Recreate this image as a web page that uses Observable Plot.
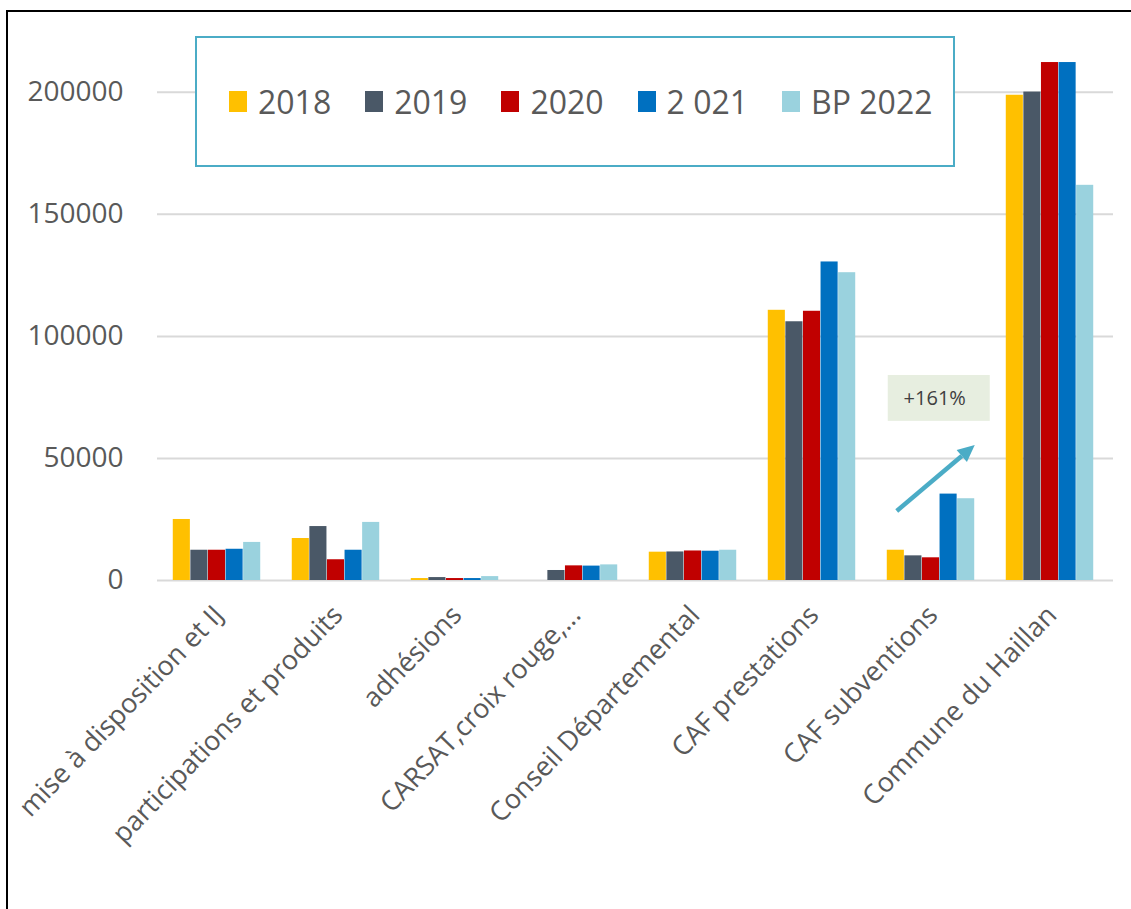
<!DOCTYPE html>
<html><head><meta charset="utf-8">
<script src="https://cdn.jsdelivr.net/npm/d3@7"></script>
<script src="https://cdn.jsdelivr.net/npm/@observablehq/plot@0.6"></script>
<style>
body{margin:0;background:#fff;font-family:"Open Sans",sans-serif;}
#wrap{position:relative;width:1131px;height:909px;overflow:hidden;background:#fff;}
#frame{position:absolute;left:6px;top:10px;width:1300px;height:1100px;border:2px solid #000;}
#chart{position:absolute;left:0;top:0;}
#legend{position:absolute;left:195px;top:36px;width:760px;height:131px;box-sizing:border-box;border:2px solid #4bacc6;background:#fff;display:flex;align-items:center;padding-left:32px;white-space:nowrap;}
.item{display:flex;align-items:center;margin-right:34px;flex:none;}
.sw{width:18px;height:21px;margin-right:11px;}
.lab{font-size:32px;color:#595959;line-height:1;}
</style></head>
<body><div id="wrap"><div id="frame"></div><div id="chart"></div><div id="legend"></div></div>
<script>
const categories = ["mise à disposition et IJ","participations et produits","adhésions","CARSAT,croix rouge,...","Conseil Départemental","CAF prestations","CAF subventions","Commune du Haillan"];
const years = ["2018","2019","2020","2 021","BP 2022"];
const colors = ["#FFC000","#4A5867","#C00000","#0070C0","#9AD2DE"];
const v2018 = [25000, 17200, 800, null, 11600, 110700, 12400, 198800];
const v2019 = [12400, 22100, 1200, 4100, 11700, 106000, 10100, 200100];
const v2020 = [12400, 8500, 800, 6000, 12100, 110300, 9300, 212200];
const v2021 = [12800, 12400, 800, 5900, 12000, 130500, 35400, 212200];
const vBP22 = [15600, 23800, 1600, 6400, 12400, 126100, 33500, 161900];
const yTicks = [0, 50000, 100000, 150000, 200000];
const annotationText = "+161%";
const annotationCategory = "CAF subventions";

const series = [v2018, v2019, v2020, v2021, vBP22];
const W = 1131, H = 909, mL = 157, mR = 18, mT = 43, mB = 329;
const band = (W - mL - mR) / categories.length;
const groupW = band * 0.736;
const barW = groupW / years.length;
const off = (band - groupW) / 2 - 2;

const barMarks = series.map((vals, i) => {
  const rows = categories.map((c, j) => ({category: c, value: vals[j], year: years[i]})).filter(d => d.value != null);
  return Plot.barY(rows, {x: "category", y: "value", fill: colors[i],
    insetLeft: off + i * barW, insetRight: band - off - (i + 1) * barW});
});

const plot = Plot.plot({
  width: W, height: H,
  marginLeft: mL, marginRight: mR, marginTop: mT, marginBottom: mB,
  style: {fontFamily: "Open Sans", fontSize: "27px", color: "#595959", background: "transparent", overflow: "visible"},
  x: {domain: categories, padding: 0, tickSize: 0, tickRotate: -46, tickPadding: 30, label: null},
  y: {domain: [0, 220000], ticks: yTicks, tickSize: 0, tickPadding: 34, tickFormat: d => String(d), label: null},
  marks: [
    Plot.ruleY(yTicks, {stroke: "#d9d9d9", strokeWidth: 2}),
    ...barMarks
  ]
});
document.getElementById("chart").appendChild(plot);

const svg = d3.select(plot);
svg.selectAll('g[aria-label^="y-axis"] text').style("font-size", "28px").attr("fill", "#595959");
svg.selectAll('g[aria-label^="x-axis"] text').attr("fill", "#595959").style("font-size", "27px");
svg.selectAll('g[aria-label^="x-axis"] path, g[aria-label^="y-axis"] path').remove();

// annotation through the plot's own scales
const xs = plot.scale("x"), ys = plot.scale("y");
const xb = d3.scaleBand().domain(xs.domain).range(xs.range).padding(0);
const yl = d3.scaleLinear().domain(ys.domain).range(ys.range);
const cx = xb(annotationCategory) + xb.bandwidth() / 2;
const g = svg.append("g");
g.append("rect").attr("x", cx - 46).attr("y", yl(84000)).attr("width", 102).attr("height", yl(65200) - yl(84000)).attr("fill", "#E7EEE0");
g.append("text").attr("x", cx + 1).attr("y", (yl(84000) + yl(65200)) / 2).attr("text-anchor", "middle").attr("dy", "0.35em")
  .attr("font-size", 20).attr("fill", "#404040").attr("font-family", "Open Sans").text(annotationText);
const x1 = cx - 37, y1 = yl(28300), x2 = cx + 41, y2 = yl(55300);
const ang = Math.atan2(y2 - y1, x2 - x1), hl = 17, hw = 8;
const bx = x2 - hl * Math.cos(ang), by = y2 - hl * Math.sin(ang);
g.append("line").attr("x1", x1).attr("y1", y1).attr("x2", bx).attr("y2", by).attr("stroke", "#4BACC6").attr("stroke-width", 4.5);
g.append("path").attr("d", `M${x2},${y2}L${bx + hw * Math.sin(ang)},${by - hw * Math.cos(ang)}L${bx - hw * Math.sin(ang)},${by + hw * Math.cos(ang)}Z`).attr("fill", "#4BACC6");

// legend
const leg = d3.select("#legend");
years.forEach((y, i) => {
  const it = leg.append("div").attr("class", "item");
  it.append("div").attr("class", "sw").style("background", colors[i]);
  it.append("div").attr("class", "lab").text(y);
});
</script></body></html>
